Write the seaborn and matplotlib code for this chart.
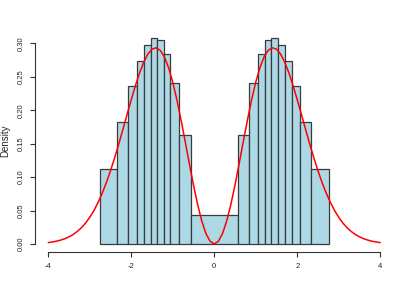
import matplotlib
matplotlib.use("Agg")
import matplotlib.pyplot as plt
import seaborn as sns
import numpy as np

# Histogram bins (unequal widths) and bar heights (density)
bin_edges = [-2.755, -2.333, -2.072, -1.863, -1.695, -1.533, -1.378, -1.220,
             -1.055, -0.848, -0.562, 0.562, 0.848, 1.055, 1.220, 1.378,
             1.533, 1.695, 1.863, 2.072, 2.333, 2.755]
bar_heights = [0.112, 0.183, 0.236, 0.2735, 0.297, 0.3075, 0.3045, 0.2835,
               0.241, 0.1625, 0.0429, 0.1625, 0.241, 0.2835, 0.3045, 0.3075,
               0.298, 0.2735, 0.236, 0.183, 0.112]

# Density curve
curve_x = [-4.0, -3.9, -3.8, -3.7, -3.6, -3.5, -3.4, -3.3, -3.2, -3.1, -3.0,
           -2.9, -2.8, -2.7, -2.6, -2.5, -2.4, -2.3, -2.2, -2.1, -2.0,
           -1.9, -1.8, -1.7, -1.6, -1.5, -1.4, -1.3, -1.2, -1.1, -1.0,
           -0.9, -0.8, -0.7, -0.6, -0.5, -0.4, -0.3, -0.2, -0.1, 0.0,
           0.1, 0.2, 0.3, 0.4, 0.5, 0.6, 0.7, 0.8, 0.9, 1.0,
           1.1, 1.2, 1.3, 1.4, 1.5, 1.6, 1.7, 1.8, 1.9, 2.0,
           2.1, 2.2, 2.3, 2.4, 2.5, 2.6, 2.7, 2.8, 2.9, 3.0,
           3.1, 3.2, 3.3, 3.4, 3.5, 3.6, 3.7, 3.8, 3.9, 4.0]
curve_y = [0.0021, 0.0030, 0.0042, 0.0058, 0.0079, 0.0107, 0.0142, 0.0188, 0.0244, 0.0314, 0.0399,
           0.0501, 0.0621, 0.0760, 0.0918, 0.1096, 0.1290, 0.1499, 0.1717, 0.1940, 0.2160,
           0.2369, 0.2558, 0.2718, 0.2840, 0.2914, 0.2935, 0.2896, 0.2796, 0.2636, 0.2420,
           0.2155, 0.1854, 0.1530, 0.1200, 0.0880, 0.0589, 0.0343, 0.0156, 0.0040, 0.0,
           0.0040, 0.0156, 0.0343, 0.0589, 0.0880, 0.1200, 0.1530, 0.1854, 0.2155, 0.2420,
           0.2636, 0.2796, 0.2896, 0.2935, 0.2914, 0.2840, 0.2718, 0.2558, 0.2369, 0.2160,
           0.1940, 0.1717, 0.1499, 0.1290, 0.1096, 0.0918, 0.0760, 0.0621, 0.0501, 0.0399,
           0.0314, 0.0244, 0.0188, 0.0142, 0.0107, 0.0079, 0.0058, 0.0042, 0.0030, 0.0021]

x_ticks = [-4, -2, 0, 2, 4]
y_ticks = [0.00, 0.05, 0.10, 0.15, 0.20, 0.25, 0.30]

sns.set_style("white")
plt.rcParams['font.family'] = ['Liberation Sans', 'DejaVu Sans']

fig = plt.figure(figsize=(4.12, 2.96), dpi=100)
ax = fig.add_axes([0.085, 0.148, 0.870, 0.750])

mids = [(bin_edges[i] + bin_edges[i + 1]) / 2 for i in range(len(bar_heights))]
sns.histplot(x=mids, weights=bar_heights, bins=bin_edges, stat="count",
             color="#ADD8E6", alpha=1.0, edgecolor="#3a3a3a", linewidth=0.9, ax=ax)
sns.lineplot(x=curve_x, y=curve_y, color="red", linewidth=1.1, ax=ax)

ax.set_xlim(-4.32, 4.32)
ax.set_ylim(-0.0123, 0.3198)
ax.set_xticks(x_ticks)
ax.set_xticklabels([str(t) for t in x_ticks])
ax.set_yticks(y_ticks)
ax.set_yticklabels([f"{t:.2f}" for t in y_ticks], rotation=90, va="center")
ax.set_xlabel("")
ax.set_ylabel("Density", fontsize=7, labelpad=5)

for s in ["top", "right"]:
    ax.spines[s].set_visible(False)
ax.spines["left"].set_bounds(0, 0.30)
ax.spines["bottom"].set_bounds(-4, 4)
for s in ["left", "bottom"]:
    ax.spines[s].set_color("#333333")
    ax.spines[s].set_linewidth(0.8)
ax.tick_params(axis="both", direction="out", length=3.5, width=0.8,
               color="#333333", labelsize=5.5, pad=4, left=True, bottom=True)

fig.savefig("out.png", dpi=100)
